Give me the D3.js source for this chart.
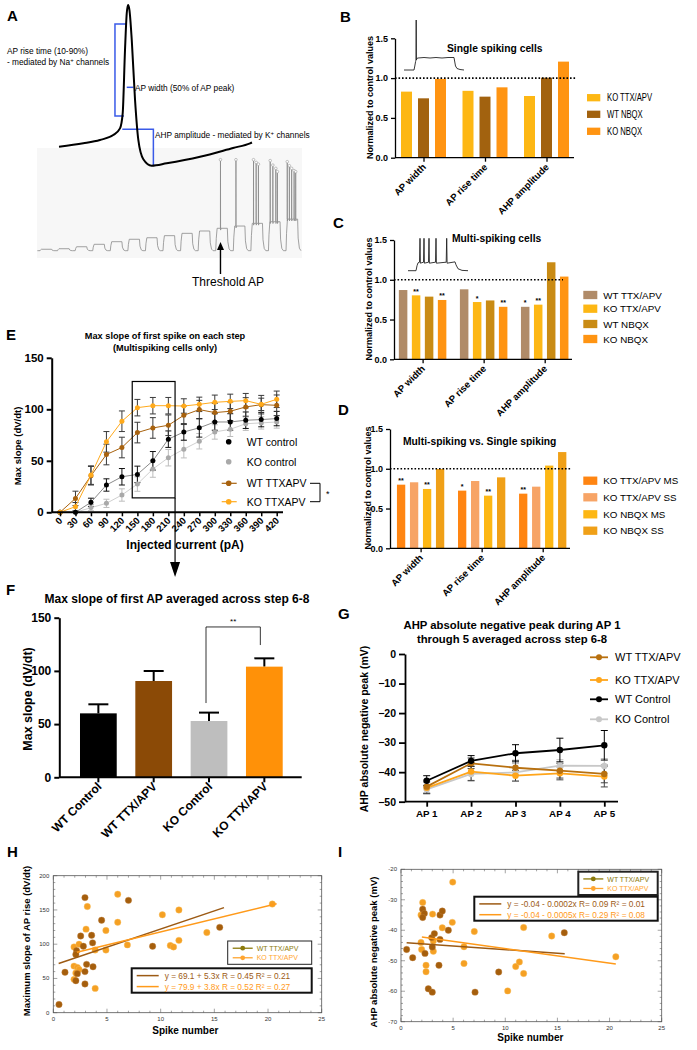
<!DOCTYPE html>
<html><head><meta charset="utf-8">
<script src="https://cdnjs.cloudflare.com/ajax/libs/d3/7.8.5/d3.min.js"></script>
<style>body{margin:0;background:#fff}svg{display:block}</style>
</head><body><script>
const FONT='"Liberation Sans", Arial, Helvetica, sans-serif';

// ================= DATA =================
// Panel A: schematic AP (time ms, voltage mV)
const apT=[0,1.26,2.12,2.81,3.16,3.30,3.42,3.51,3.58,3.65,3.77,3.94,4.11,4.37,4.80,5.58,7.31,9.02,9.90,10];
const apV=[-61.2,-58.8,-56.4,-52.9,-48.1,-37.4,7.9,34.1,40,36.4,15,-27.9,-56.4,-70.2,-74.8,-73.1,-68.4,-62.1,-58.8,-58.2];
const apRise={t0:2.9,t1:3.47,t1b:3.37,v10:-39.3,v90:26.4};
const apWidth={t0:3.51,t1:3.86,v:-18.8};
const apAhp={t0:3.28,t1:4.89,v0:-48.8,v1:-75};
// Panel A: current step sweeps
const stepTops=[-68.4,-67.8,-65.6,-62.9,-60,-57.3,-55.6,-53.3,-50.7,-48.1,-45.1,-42.6,-39.6,-37.8,-34.9];
const spikeSweeps=[10,11,12,13,14];
const spikeOffsets=[[0.27],[0.15],[0.15,0.30,0.43],[0.10,0.25,0.42,0.51],[0.07,0.19,0.32,0.46,0.55]];
const spikePeaks=[[30],[30],[30,27,25],[29,24,20.4,16.7],[27.8,23.3,20.4,17.8,16.7]];

// Panels B-D
const metrics=["AP width","AP rise time","AHP amplitude"];
const bSeries=["KO TTX/APV","WT NBQX","KO NBQX"];
const bKoTtx=[0.83,0.84,0.775];
const bWtNbqx=[0.746,0.767,1.005];
const bKoNbqx=[0.99,0.884,1.207];
const bColors=["#FDB714","#A2620F","#FF9412"];
const bInsetT=[0,100,108,116,120,122,124,128,140,200,260,320,380,440,500,506,515,530,560,600];
const bInsetV=[-70,-70,-62,-53,-50,30,-50,-47,-46,-45,-46,-45,-46,-45,-45,-52,-62,-67,-69,-70];

const cSeries=["WT TTX/APV","KO TTX/APV","WT NBQX","KO NBQX"];
const cWtTtx=[0.871,0.88,0.66];
const cKoTtx=[0.804,0.72,0.687];
const cWtNbqx=[0.788,0.74,1.22];
const cKoNbqx=[0.746,0.66,1.04];
const cStars=[["","","*"],["**","*","**"],["","",""],["**","**",""]];
const cColors=["#B08B68","#FDB714","#C98B14","#FF9412"];
const cInsetT=[0,80,90,100,115,120,124,155,160,164,205,210,214,275,280,284,382,387,391,470,480,500,540,600];
const cInsetV=[-70,-70,-55,-46,-44,29,-47,-44,29,-47,-44,29,-47,-44,29,-47,-44,29,-47,-43,-52,-64,-69,-70];

const dSeries=["KO TTX/APV MS","KO TTX/APV SS","KO NBQX MS","KO NBQX SS"];
const dTtxMs=[0.80,0.725,0.687];
const dTtxSs=[0.83,0.846,0.775];
const dNbqxMs=[0.746,0.662,1.04];
const dNbqxSs=[0.997,0.892,1.21];
const dStars=[["**","*","**"],["","",""],["**","**",""],["","",""]];
const dColors=["#FF8512","#F7A466","#FDB714","#F0A017"];

// Panel E
const eCurrents=[0,30,60,90,120,150,180,210,240,270,300,330,360,390,420];
const eWTctrl=[0,0,9.7,26.5,34.5,36.8,50,71,78,82,87.7,87.7,89.4,90,91];
const eWTctrlErr=[0,0,4,6,8,8,9,8,8,9,8,8,8,7,7];
const eKOctrl=[0,0,4.5,8.7,16.8,27.4,42,53,61.3,69,78,80.6,86,86.8,87.7];
const eKOctrlErr=[0,0,3,4,6,7,8,8,8.5,7.5,7,7,6.5,6,6];
const eWTttx=[0,13.5,35.5,56.1,62.9,77.4,81.9,84.5,94.2,99.7,96.8,98.1,102.3,104.5,103.9];
const eWTttxErr=[0,7,9,10,10,10,10,10,9,9,9,9,9,9,10];
const eKOttx=[0,5.5,36.1,68.4,88.4,101.6,103.5,103.5,103.2,104.8,106.8,107.7,108.4,104.8,109.7];
const eKOttxErr=[0,4,9,10,10,8,8,8,7,7,7,7,7,6,8];
const eBox={x0:140,x1:223,y0:14,y1:127};

// Panel F
const fCats=["WT Control","WT TTX/APV","KO Control","KO TTX/APV"];
const fMeans=[60.1,90.5,52.9,104];
const fErr=[8.5,9.4,7.9,7.8];
const fColors=["#000000","#8B4A06","#BEBEBE","#FF9108"];

// Panel G
const gCats=["AP 1","AP 2","AP 3","AP 4","AP 5"];
const gWTttx=[-44.9,-37,-38.5,-39.5,-40.6], gWTttxErr=[2.2,1.8,2.5,2.5,3];
const gKOttx=[-45.3,-39.8,-41.2,-40.4,-41.5], gKOttxErr=[2,3,1.8,2.2,3.5];
const gWTctrl=[-42.9,-36.2,-33.6,-32.5,-30.9], gWTctrlErr=[1.7,1.8,2.9,4,5];
const gKOctrl=[-45.8,-40.6,-40.1,-37.8,-37.9], gKOctrlErr=[1.5,2.5,3,2,2.5];

// Panel H
const hWT=[[0.53,12],[1.09,59],[2.95,168],[7.0,164],[4.5,135],[2.55,112],[3.57,113],[2.8,97],[3.66,102],[2.17,90.5],[2.1,85],[9.25,97],[15.5,124.6],[2.1,46.7],[2.24,57],[3.1,70.6],[3.7,67],[2.95,60],[2.95,42]];
const hKO=[[3.17,155],[6.0,173],[6.0,132],[4.9,120],[3.05,122],[1.93,96],[2.4,100],[3.9,91.5],[4.9,91.5],[6.9,99],[10.16,143],[11.7,150],[10.9,98],[11.2,96],[11.7,105.6],[14.3,117],[20.4,158.6],[1.93,68],[2.24,66],[2.4,63],[2.1,58],[1.93,48.7],[3.9,35.5]];
const hFitWT={a:69.1,b:5.3,x0:0.5,x1:15.9};
const hFitKO={a:79.9,b:3.8,x0:2.2,x1:20.8};
const hEq=["y = 69.1 + 5.3x   R = 0.45   R² = 0.21","y = 79.9 + 3.8x   R = 0.52   R² = 0.27"];
// Panel I
const iWT=[[0.54,-46.3],[1.12,-49],[2.08,-33.1],[2.24,-34.5],[2.08,-35.8],[2.3,-47.6],[2.62,-59.2],[3.0,-60.3],[2.94,-42.4],[3.0,-45.5],[3.2,-41.1],[3.74,-35],[3.96,-33.7],[3.74,-43],[3.64,-51.5],[4.54,-40],[7.1,-60.3],[9.37,-53.7],[15.66,-40.8]];
const iKO=[[2.08,-30.9],[1.92,-35],[1.92,-44],[1.98,-46.3],[2.4,-51.5],[2.4,-53.6],[3.03,-34.7],[3.1,-43.5],[3.1,-46.9],[3.96,-39.2],[4.96,-24.2],[4.92,-37.4],[6.04,-45.4],[6.04,-50.9],[7.03,-40.4],[10.23,-59.9],[11.0,-51.9],[11.35,-50.4],[11.76,-39.1],[11.76,-54.2],[14.45,-41.9],[20.6,-48.7]];
const iFitWT={a:-43.97,b:-0.237,x0:0.54,x1:15.7};
const iFitKO={a:-41.24,b:-0.478,x0:2.0,x1:20.6};
const iEq=["y = -0.04 - 0.0002x   R= 0.09 R² = 0.01","y = -0.04 - 0.0005x   R= 0.29 R² = 0.08"];

// ================= HELPERS =================
const svg=d3.select('body').append('svg').attr('width',697).attr('height',1050).attr('font-family',FONT);
function txt(g,x,y,s,size,o={}){
  const t=g.append('text').text(s).attr('font-size',size)
    .attr('font-weight',o.bold?'bold':'normal').attr('fill',o.fill||'#000')
    .attr('text-anchor',o.anchor||'start');
  let tr=`translate(${x},${y})`;
  if(o.rotate) tr+=` rotate(${o.rotate})`;
  if(o.sx) tr+=` scale(${o.sx},1)`;
  t.attr('transform',tr);
  return t;
}
function styleAxis(a,size,bold,sw){
  a.attr('font-family',FONT).attr('font-size',size).attr('font-weight',bold?'bold':'normal');
  a.select('.domain').attr('stroke-width',sw);
  a.selectAll('.tick line').attr('stroke-width',sw);
}
function errBar(g,x,yTop,yBot,cap,color,sw){
  g.append('line').attr('x1',x).attr('x2',x).attr('y1',yTop).attr('y2',yBot).attr('stroke',color).attr('stroke-width',sw);
  [yTop,yBot].forEach(yy=>g.append('line').attr('x1',x-cap/2).attr('x2',x+cap/2).attr('y1',yy).attr('y2',yy).attr('stroke',color).attr('stroke-width',sw));
}

// panel letters
[["A",7,21],["B",340,22],["C",333,228],["D",338,415],["E",6,340],["F",6,595],["G",338,619],["H",7,857],["I",338,857]]
 .forEach(d=>txt(svg,d[1],d[2],d[0],15,{bold:true}));

// ================= PANEL A =================
(function(){
  const g=svg.append('g');
  g.append('rect').attr('x',37).attr('y',148).attr('width',265).attr('height',110).attr('fill','#f7f7f7');
  const xS=d3.scaleLinear().domain([0,15]).range([40,303.6]);
  const yS=d3.scaleLinear().domain([-70,30]).range([250.7,160.7]);
  const base=-70;
  const pts=[[-0.15,base]];
  const tops=[];
  stepTops.forEach((a,i)=>{
    pts.push([i,base],[i+0.03,base+0.55*(a-base)],[i+0.08,a]);
    const k=spikeSweeps.indexOf(i);
    if(k>=0){
      spikeOffsets[k].forEach((o,j)=>{
        pts.push([i+o-0.004,a],[i+o,spikePeaks[k][j]],[i+o+0.006,a-2],[i+o+0.03,a]);
        tops.push([i+o,spikePeaks[k][j]]);
      });
    }
    pts.push([i+0.66,a],[i+0.69,base+0.4*(a-base)],[i+0.76,base+0.08*(a-base)],[i+0.85,base]);
  });
  g.append('path').attr('d',d3.line().x(d=>xS(d[0])).y(d=>yS(d[1]))(pts))
   .attr('fill','none').attr('stroke','#8a8a8a').attr('stroke-width',0.8);
  g.selectAll(null).data(tops).enter().append('circle').attr('cx',d=>xS(d[0])).attr('cy',d=>yS(d[1])-1)
   .attr('r',1.3).attr('fill','#fff').attr('stroke','#999').attr('stroke-width',0.6);
  // arrow
  const ax=xS(spikeSweeps[0]+spikeOffsets[0][0]);
  g.append('line').attr('x1',ax).attr('x2',ax).attr('y1',274).attr('y2',249).attr('stroke','#000').attr('stroke-width',1.4);
  g.append('path').attr('d',`M${ax-3.5},250L${ax+3.5},250L${ax},242Z`).attr('fill','#000');
  txt(g,192,286,"Threshold AP",12);

  // AP trace
  const xA=d3.scaleLinear().domain([0,10]).range([59,252]);
  const yA=d3.scaleLinear().domain([-75,40]).range([166,5]);
  const blue="#3a5ae8";
  g.append('path').attr('d',`M${xA(apRise.t1)},${yA(apRise.v90)}H${xA(apRise.t0)}V${yA(apRise.v10)}H${xA(apRise.t1b)}`)
   .attr('fill','none').attr('stroke',blue).attr('stroke-width',1.5);
  g.append('line').attr('x1',xA(apWidth.t0)).attr('x2',xA(apWidth.t1)).attr('y1',yA(apWidth.v)).attr('y2',yA(apWidth.v)).attr('stroke',blue).attr('stroke-width',1.5);
  g.append('path').attr('d',`M${xA(apAhp.t0)},${yA(apAhp.v0)}H${xA(apAhp.t1)}V${yA(apAhp.v1)}`)
   .attr('fill','none').attr('stroke',blue).attr('stroke-width',1.5);
  g.append('path').attr('d',d3.line().x((d,i)=>xA(apT[i])).y(d=>yA(d)).curve(d3.curveMonotoneX)(apV))
   .attr('fill','none').attr('stroke','#000').attr('stroke-width',2);
  txt(g,7,54,"AP rise time (10-90%)",8.3);
  const t2=txt(g,7,65,"- mediated by Na",8.3); t2.append('tspan').attr('dy',-3).attr('font-size',6).text('+'); t2.append('tspan').attr('dy',3).text(' channels');
  txt(g,135,91,"AP width (50% of AP peak)",8.3);
  const t3=txt(g,155,137.5,"AHP amplitude - mediated by K",8.3); t3.append('tspan').attr('dy',-3).attr('font-size',6).text('+'); t3.append('tspan').attr('dy',3).text(' channels');
})();

// ================= PANELS B, C, D =================
function normPanel(c){
  const g=svg.append('g');
  const y=d3.scaleLinear().domain([0,1.5]).range([c.yBottom,c.yTop]);
  const xg=d3.scalePoint().domain(metrics).range(c.gRange);
  const xs=d3.scalePoint().domain(c.series).range(c.sRange);
  c.values.forEach((vals,si)=>{
    g.selectAll(null).data(vals).enter().append('rect')
     .attr('x',(d,i)=>xg(metrics[i])+xs(c.series[si])-c.bw/2)
     .attr('y',d=>y(d)).attr('width',c.bw).attr('height',d=>y(0)-y(d)).attr('fill',c.colors[si]);
    if(c.stars) g.selectAll(null).data(c.stars[si]).enter().append('text')
      .attr('x',(d,i)=>xg(metrics[i])+xs(c.series[si])).attr('y',(d,i)=>y(vals[i])-1.5)
      .attr('text-anchor','middle').attr('font-size',7).attr('font-weight','bold').text(d=>d);
  });
  g.append('line').attr('x1',c.axX).attr('x2',c.dotEnd).attr('y1',y(1)).attr('y2',y(1))
   .attr('stroke','#000').attr('stroke-width',1.6).attr('stroke-dasharray','1.6,1.9');
  const ya=g.append('g').attr('transform',`translate(${c.axX},0)`)
    .call(d3.axisLeft(y).tickValues([0,0.5,1,1.5]).tickFormat(d3.format('.1f')).tickSize(4).tickSizeOuter(0));
  styleAxis(ya,9,true,1.3);
  const xa=g.append('g').attr('transform',`translate(0,${y(0)})`).call(d3.axisBottom(xg).tickSize(4).tickFormat(''));
  xa.select('.domain').remove(); xa.selectAll('.tick line').attr('stroke-width',1.3);
  g.append('line').attr('x1',c.axX).attr('x2',c.axEnd).attr('y1',y(0)).attr('y2',y(0)).attr('stroke','#000').attr('stroke-width',1.3);
  metrics.forEach(m=>txt(g,xg(m)+3,y(0)+10,m,9.5,{bold:true,anchor:'end',rotate:-45}));
  txt(g,c.ylab[0],c.ylab[1],"Normalized to control values",9,{bold:true,anchor:'middle',rotate:-90});
  txt(g,c.title[0],c.title[1],c.title[2],c.title[3],{bold:true});
  c.series.forEach((s,i)=>{
    g.append('rect').attr('x',c.leg.x).attr('y',c.leg.ys[i]-c.leg.h/2).attr('width',c.leg.w).attr('height',c.leg.h).attr('fill',c.colors[i]);
    txt(g,c.leg.tx,c.leg.ys[i]+3.6,s,c.leg.fs,{sx:c.leg.sx});
  });
  if(c.inset){
    const xi=d3.scaleLinear().domain([0,600]).range(c.inset.xr);
    const yi=d3.scaleLinear().domain([-70,30]).range(c.inset.yr);
    g.append('path').attr('d',d3.line().x((d,i)=>xi(c.inset.t[i])).y(d=>yi(d))(c.inset.v))
     .attr('fill','none').attr('stroke','#222').attr('stroke-width',0.9);
  }
}
normPanel({yBottom:157.7,yTop:38.3,gRange:[423.5,546.5],sRange:[-17,17],bw:11,axX:395,axEnd:574,dotEnd:577,
  series:bSeries,values:[bKoTtx,bWtNbqx,bKoNbqx],colors:bColors,
  ylab:[373,97.5],title:[447,52,"Single spiking cells",10.3],
  leg:{x:587,w:13.3,h:7.3,ys:[97.7,114.3,131.3],tx:607,fs:10,sx:0.77},
  inset:{xr:[404,464],yr:[70,20],t:bInsetT,v:bInsetV}});
normPanel({yBottom:359.3,yTop:240,gRange:[422.6,544.7],sRange:[-19.5,19.5],bw:8.5,axX:394,axEnd:572,dotEnd:563,
  series:cSeries,values:[cWtTtx,cKoTtx,cWtNbqx,cKoNbqx],stars:cStars,colors:cColors,
  ylab:[371.5,299],title:[452,241.7,"Multi-spiking cells",10.3],
  leg:{x:583.3,w:14,h:8.3,ys:[295,308.7,324,339],tx:603.3,fs:9.8},
  inset:{xr:[408,468],yr:[270.7,238],t:cInsetT,v:cInsetV}});
normPanel({yBottom:548.3,yTop:429,gRange:[420.6,542.7],sRange:[-19.5,19.5],bw:8.3,axX:390,axEnd:570,dotEnd:572,
  series:dSeries,values:[dTtxMs,dTtxSs,dNbqxMs,dNbqxSs],stars:dStars,colors:dColors,
  ylab:[370.5,488],title:[403,445,"Multi-spiking vs. Single spiking",10.3],
  leg:{x:583.3,w:14,h:8.3,ys:[480.7,497.3,514.3,530.7],tx:603.3,fs:9.8}});

// ================= PANEL E =================
(function(){
  const g=svg.append('g');
  const x=d3.scaleLinear().domain([0,420]).range([60,276.7]);
  const y=d3.scaleLinear().domain([0,150]).range([512.3,357.8]);
  txt(g,165,338.5,"Max slope of first spike on each step",9.2,{bold:true,anchor:'middle'});
  txt(g,165,351,"(Multispiking cells only)",9.2,{bold:true,anchor:'middle'});
  const series=[
    {vals:eKOctrl,err:eKOctrlErr,color:"#A9A9A9",errColor:"#BDBDBD",line:"#D0D0D0"},
    {vals:eWTctrl,err:eWTctrlErr,color:"#000",errColor:"#111",line:"#8a8a8a"},
    {vals:eWTttx,err:eWTttxErr,color:"#A8620E",errColor:"#3a3a3a",line:"#A8620E"},
    {vals:eKOttx,err:eKOttxErr,color:"#FFAA1C",errColor:"#3a3a3a",line:"#FFAA1C"}];
  series.forEach(s=>{
    s.vals.forEach((v,i)=>{ if(s.err[i]>0) errBar(g,x(eCurrents[i]),y(v+s.err[i]),y(v-s.err[i]),6,s.errColor,1); });
  });
  series.forEach(s=>{
    g.append('path').attr('d',d3.line().x((d,i)=>x(eCurrents[i])).y(d=>y(d))(s.vals)).attr('fill','none').attr('stroke',s.line).attr('stroke-width',1);
    g.selectAll(null).data(s.vals).enter().append('circle').attr('cx',(d,i)=>x(eCurrents[i])).attr('cy',d=>y(d)).attr('r',2.5).attr('fill',s.color);
  });
  // box + arrow
  g.append('rect').attr('x',x(eBox.x0)).attr('y',y(eBox.y1)).attr('width',x(eBox.x1)-x(eBox.x0)).attr('height',y(eBox.y0)-y(eBox.y1))
   .attr('fill','none').attr('stroke','#000').attr('stroke-width',1.2);
  const axp=x(eBox.x1);
  g.append('line').attr('x1',axp).attr('x2',axp).attr('y1',y(eBox.y0)).attr('y2',564).attr('stroke','#000').attr('stroke-width',1.2);
  g.append('path').attr('d',`M${axp-5},562L${axp+5},562L${axp},577Z`).attr('fill','#000');
  // axes
  const ya=g.append('g').attr('transform','translate(51.7,0)').call(d3.axisLeft(y).tickValues([0,50,100,150]).tickSize(5).tickSizeOuter(0));
  styleAxis(ya,11.5,true,2);
  const xa=g.append('g').attr('transform',`translate(0,${y(0)})`).call(d3.axisBottom(x).tickValues(eCurrents).tickSize(4).tickFormat(''));
  xa.select('.domain').remove(); xa.selectAll('.tick line').attr('stroke-width',1.5);
  g.append('line').attr('x1',51.7).attr('x2',283).attr('y1',y(0)).attr('y2',y(0)).attr('stroke','#000').attr('stroke-width',2);
  eCurrents.forEach(c=>txt(g,x(c)+3,y(0)+9,String(c),9.5,{bold:true,anchor:'end',rotate:-45}));
  txt(g,185,549,"Injected current (pA)",12,{bold:true,anchor:'middle'});
  txt(g,20.5,446,"Max slope (dV/dt)",9.5,{bold:true,anchor:'middle',rotate:-90});
  // legend
  const lx=228.7, ly=[441.7,461.7,483.3,501.7];
  const names=["WT control","KO control","WT TTXAPV","KO TTXAPV"];
  const lcol=["#000","#A9A9A9","#A8620E","#FFAA1C"];
  names.forEach((n,i)=>{
    if(i>=2) g.append('line').attr('x1',lx-7).attr('x2',lx+8).attr('y1',ly[i]).attr('y2',ly[i]).attr('stroke',lcol[i]).attr('stroke-width',1.2);
    g.append('circle').attr('cx',lx).attr('cy',ly[i]).attr('r',2.8).attr('fill',lcol[i]);
    txt(g,246.7,ly[i]+4,n,10.5);
  });
  g.append('path').attr('d',`M310,${ly[2]}H320V${ly[3]}H310`).attr('fill','none').attr('stroke','#000').attr('stroke-width',1);
  txt(g,326,497,"*",9);
})();

// ================= PANEL F =================
(function(){
  const g=svg.append('g');
  const x=d3.scaleBand().domain(fCats).range([70.7,292]).paddingInner(0.336).paddingOuter(0.168);
  const y=d3.scaleLinear().domain([0,150]).range([777.3,617.7]);
  txt(g,177,603.3,"Max slope of first AP averaged across step 6-8",12,{bold:true,anchor:'middle'});
  fCats.forEach((c,i)=>{
    const cx=x(c)+x.bandwidth()/2;
    g.append('line').attr('x1',cx).attr('x2',cx).attr('y1',y(fMeans[i])).attr('y2',y(fMeans[i]+fErr[i])).attr('stroke','#000').attr('stroke-width',2);
    g.append('line').attr('x1',cx-10).attr('x2',cx+10).attr('y1',y(fMeans[i]+fErr[i])).attr('y2',y(fMeans[i]+fErr[i])).attr('stroke','#000').attr('stroke-width',2);
  });
  g.selectAll(null).data(fMeans).enter().append('rect').attr('x',(d,i)=>x(fCats[i])).attr('y',d=>y(d))
   .attr('width',x.bandwidth()).attr('height',d=>y(0)-y(d)).attr('fill',(d,i)=>fColors[i]);
  const ya=g.append('g').attr('transform','translate(59.3,0)').call(d3.axisLeft(y).tickValues([0,50,100,150]).tickSize(5).tickSizeOuter(0));
  styleAxis(ya,12,true,2);
  const xa=g.append('g').attr('transform',`translate(0,${y(0)})`).call(d3.axisBottom(x).tickSize(5).tickFormat(''));
  xa.select('.domain').remove(); xa.selectAll('.tick line').attr('stroke-width',2);
  g.append('line').attr('x1',59.3).attr('x2',301.7).attr('y1',y(0)).attr('y2',y(0)).attr('stroke','#000').attr('stroke-width',2);
  fCats.forEach(c=>txt(g,x(c)+x.bandwidth()/2+4,y(0)+10,c,12,{bold:true,anchor:'end',rotate:-45}));
  txt(g,31.5,699,"Max slope (dV/dt)",12.5,{bold:true,anchor:'middle',rotate:-90});
  // significance
  const xa1=x(fCats[2])+x.bandwidth()/2-3, xa2=x(fCats[3])+x.bandwidth()/2-4;
  g.append('path').attr('d',`M${xa1},${y(69.8)}V${y(141.3)}H${xa2}V${y(124.3)}`).attr('fill','none').attr('stroke','#000').attr('stroke-width',0.8);
  txt(g,(xa1+xa2)/2,624,"**",8,{anchor:'middle'});
})();

// ================= PANEL G =================
(function(){
  const g=svg.append('g');
  const x=d3.scalePoint().domain(gCats).range([426.7,604.3]);
  const y=d3.scaleLinear().domain([-50,0]).range([801.7,654]);
  txt(g,512,629,"AHP absolute negative peak during AP 1",11.3,{bold:true,anchor:'middle'});
  txt(g,512,643,"through 5 averaged across step 6-8",11.3,{bold:true,anchor:'middle'});
  const series=[
    {v:gKOctrl,e:gKOctrlErr,c:"#C8C8C8",ec:"#BBBBBB"},
    {v:gKOttx,e:gKOttxErr,c:"#FFA51A",ec:"#444"},
    {v:gWTttx,e:gWTttxErr,c:"#B8700F",ec:"#444"},
    {v:gWTctrl,e:gWTctrlErr,c:"#000",ec:"#000"}];
  series.forEach(s=>s.v.forEach((v,i)=>errBar(g,x(gCats[i]),y(v+s.e[i]),y(v-s.e[i]),7,s.ec,1)));
  series.forEach(s=>{
    g.append('path').attr('d',d3.line().x((d,i)=>x(gCats[i])).y(d=>y(d))(s.v)).attr('fill','none').attr('stroke',s.c).attr('stroke-width',1.8);
    g.selectAll(null).data(s.v).enter().append('circle').attr('cx',(d,i)=>x(gCats[i])).attr('cy',d=>y(d)).attr('r',3.2).attr('fill',s.c);
  });
  const ya=g.append('g').attr('transform','translate(405,0)').call(d3.axisLeft(y).tickValues([0,-10,-20,-30,-40,-50]).tickSize(6).tickSizeOuter(0));
  styleAxis(ya,10.5,true,1.8);
  const xa=g.append('g').attr('transform',`translate(0,${y(-50)})`).call(d3.axisBottom(x).tickSize(5).tickFormat(''));
  xa.select('.domain').remove(); xa.selectAll('.tick line').attr('stroke-width',1.8);
  g.append('line').attr('x1',405).attr('x2',618).attr('y1',y(-50)).attr('y2',y(-50)).attr('stroke','#000').attr('stroke-width',1.8);
  gCats.forEach(c=>txt(g,x(c),817,c,9.8,{bold:true,anchor:'middle'}));
  txt(g,367.5,729,"AHP absolute negative peak (mV)",10.5,{bold:true,anchor:'middle',rotate:-90});
  const names=["WT TTX/APV","KO TTX/APV","WT Control","KO Control"];
  const cols=["#B8700F","#FFA51A","#000","#C8C8C8"];
  const ly=[657.3,680,699.3,719.3];
  names.forEach((n,i)=>{
    g.append('line').attr('x1',590).attr('x2',608).attr('y1',ly[i]).attr('y2',ly[i]).attr('stroke',cols[i]).attr('stroke-width',1.8);
    g.append('circle').attr('cx',599).attr('cy',ly[i]).attr('r',3).attr('fill',cols[i]);
    txt(g,615,ly[i]+4,n,11);
  });
})();

// ================= PANELS H, I =================
function scatterPanel(c){
  const g=svg.append('g');
  const x=d3.scaleLinear().domain([0,25]).range([c.x0,c.x1]);
  const y=d3.scaleLinear().domain(c.yDom).range([c.y0,c.y1]);
  // ticks
  const tk=(xx,yy,dx,dy)=>g.append('line').attr('x1',xx).attr('y1',yy).attr('x2',xx+dx).attr('y2',yy+dy).attr('stroke','#666').attr('stroke-width',0.6);
  d3.range(0,26,1).forEach(v=>{const L=v%5===0?4:2; tk(x(v),c.y0,0,-L); tk(x(v),c.y1,0,L);});
  d3.range(c.yDom[0],c.yDom[1]+0.01,c.yMinor).forEach(v=>{const L=Math.abs((v-c.yDom[0])%c.yMajor)<1e-6?4:2; tk(c.x0,y(v),L,0); tk(c.x1,y(v),-L,0);});
  g.append('rect').attr('x',c.x0).attr('y',c.y1).attr('width',c.x1-c.x0).attr('height',c.y0-c.y1).attr('fill','none').attr('stroke','#555').attr('stroke-width',0.8);
  d3.range(0,26,5).forEach(v=>txt(g,x(v),c.y0+8,String(v),6,{anchor:'middle',fill:'#333'}));
  d3.range(c.yDom[0],c.yDom[1]+0.01,c.yMajor).forEach(v=>txt(g,c.x0-4,y(v)+2,String(v),6,{anchor:'end',fill:'#333'}));
  const pc=[["#A55E0C",c.wt],["#F29B1E",c.ko]];
  // points
  g.selectAll(null).data(c.ko).enter().append('circle').attr('cx',d=>x(d[0])).attr('cy',d=>y(d[1])).attr('r',3.2).attr('fill','#F5A023').attr('stroke','#F8C060').attr('stroke-width',0.4);
  g.selectAll(null).data(c.wt).enter().append('circle').attr('cx',d=>x(d[0])).attr('cy',d=>y(d[1])).attr('r',3.2).attr('fill','#A55E0C').attr('stroke','#C08040').attr('stroke-width',0.4);
  // fits
  [[c.fitWT,"#9C5A14"],[c.fitKO,"#FF9A1A"]].forEach(([f,col])=>{
    g.append('line').attr('x1',x(f.x0)).attr('x2',x(f.x1)).attr('y1',y(f.a+f.b*f.x0)).attr('y2',y(f.a+f.b*f.x1)).attr('stroke',col).attr('stroke-width',1.5);
  });
  // legend 1
  const L1=c.leg1;
  g.append('rect').attr('x',L1.x).attr('y',L1.y).attr('width',L1.w).attr('height',L1.h).attr('fill','#fff').attr('stroke','#222').attr('stroke-width',L1.sw);
  [["WT TTX/APV","#8C7A0C"],["KO TTX/APV","#FFA530"]].forEach(([n,col],i)=>{
    const yy=L1.y+L1.h*(i===0?0.31:0.72);
    g.append('line').attr('x1',L1.x+5).attr('x2',L1.x+25).attr('y1',yy).attr('y2',yy).attr('stroke',col).attr('stroke-width',1.3);
    g.append('circle').attr('cx',L1.x+15).attr('cy',yy).attr('r',2.4).attr('fill',col);
    txt(g,L1.x+29,yy+2.6,n,7,{fill:col});
  });
  const L2=c.leg2;
  g.append('rect').attr('x',L2.x).attr('y',L2.y).attr('width',L2.w).attr('height',L2.h).attr('fill','#fff').attr('stroke','#111').attr('stroke-width',2);
  [[c.eq[0],"#9C5A14"],[c.eq[1],"#FF9A1A"]].forEach(([n,col],i)=>{
    const yy=L2.y+L2.h*(i===0?0.3:0.75);
    g.append('line').attr('x1',L2.x+5).attr('x2',L2.x+27).attr('y1',yy).attr('y2',yy).attr('stroke',col).attr('stroke-width',1.5);
    txt(g,L2.x+33,yy+3,n,8.3,{fill:col});
  });
  txt(g,c.ylab[0],c.ylab[1],c.ylabel,9.5,{bold:true,anchor:'middle',rotate:-90});
  txt(g,c.xlab[0],c.xlab[1],"Spike number",10,{bold:true,anchor:'middle'});
}
scatterPanel({x0:53.3,x1:321.7,y0:1012.7,y1:875.7,yDom:[0,200],yMajor:50,yMinor:10,wt:hWT,ko:hKO,fitWT:hFitWT,fitKO:hFitKO,eq:hEq,
  leg1:{x:227.7,y:941,w:84,h:23.3,sw:1},leg2:{x:131.7,y:968.3,w:180,h:24.4},
  ylab:[30,941],ylabel:"Maximum slope of AP rise (dV/dt)",xlab:[185.3,1034]});
scatterPanel({x0:401,x1:661.7,y0:1021.7,y1:869.3,yDom:[-70,-20],yMajor:10,yMinor:2,wt:iWT,ko:iKO,fitWT:iFitWT,fitKO:iFitKO,eq:iEq,
  leg1:{x:578.3,y:871.7,w:79.4,h:23.3,sw:2},leg2:{x:474.3,y:896.7,w:183.4,h:24},
  ylab:[376.5,952],ylabel:"AHP absolute negative peak (mV)",xlab:[530.3,1041]});
</script></body></html>
